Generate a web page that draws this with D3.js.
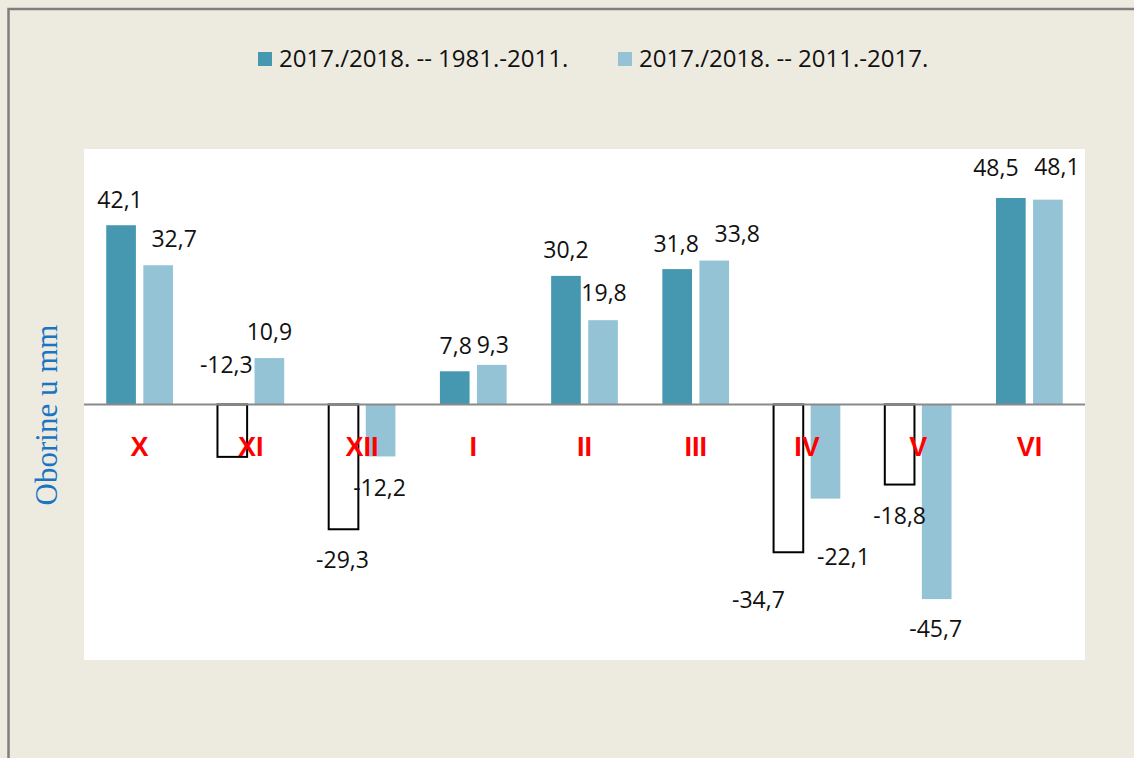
<!DOCTYPE html>
<html>
<head>
<meta charset="utf-8">
<title>Oborine</title>
<script src="https://d3js.org/d3.v7.min.js"></script>
<style>
  body { margin: 0; background: #edebe0; }
  svg { display: block; }
</style>
</head>
<body>
<div id="chart"></div>
<script>
  const categories = ["X", "XI", "XII", "I", "II", "III", "IV", "V", "VI"];
  const seriesNames = ["2017./2018. -- 1981.-2011.", "2017./2018. -- 2011.-2017."];
  const series1 = [42.1, -12.3, -29.3, 7.8, 30.2, 31.8, -34.7, -18.8, 48.5];
  const series2 = [32.7, 10.9, -12.2, 9.3, 19.8, 33.8, -22.1, -45.7, 48.1];
  const yDomain = [-60, 60];

  // hand-placed label offsets (px) from the bar end, as in the original
  const shift1 = [[-1, -26], [-6, -92], [-1, 30], [1, -26], [0, -26], [-1, -25], [-30, 47], [0, 31], [-15, -30]];
  const shift2 = [[16, -27], [0, -26], [-1, 31], [1, -20], [1, -27], [23, -27], [18, 58], [-1, 30], [9, -33]];

  const width = 1134;
  const height = 758;
  const plot = { left: 84, right: 1085, top: 149, bottom: 660 };
  const colors = ["#4598b0", "#93c3d5"];

  const fmt = d3.formatLocale({ decimal: ",", thousands: ".", grouping: [3], currency: ["", ""], minus: "-" }).format(".1f");

  const svg = d3.select("#chart")
          .append("svg")
          .attr("width", width)
          .attr("height", height);

  svg.append("rect")
          .attr("width", width)
          .attr("height", height)
          .attr("fill", "#edebe0");

  svg.append("rect")
          .attr("x", 8.5)
          .attr("y", 9)
          .attr("width", width + 20)
          .attr("height", height + 20)
          .attr("fill", "none")
          .attr("stroke", "#7f7f7f")
          .attr("stroke-width", 2.5);

  svg.append("rect")
          .attr("x", plot.left)
          .attr("y", plot.top)
          .attr("width", plot.right - plot.left)
          .attr("height", plot.bottom - plot.top)
          .attr("fill", "#ffffff");

  const x = d3.scaleBand()
          .domain(categories)
          .range([plot.left, plot.right]);

  const x1 = d3.scaleBand()
          .domain([0, 1])
          .range([0, x.bandwidth()])
          .paddingInner(0.2)
          .paddingOuter(0.6);

  const y = d3.scaleLinear()
          .domain(yDomain)
          .range([plot.bottom, plot.top]);

  const rows = categories.map((c, i) => ({ cat: c, vals: [series1[i], series2[i]], i }));

  const groups = svg.selectAll(".grp")
          .data(rows)
          .enter()
          .append("g")
          .attr("class", "grp")
          .attr("transform", d => `translate(${x(d.cat)},0)`);

  groups.selectAll("rect")
          .data(d => d.vals.map((v, s) => ({ v, s })))
          .enter()
          .append("rect")
          .attr("x", d => x1(d.s))
          .attr("width", x1.bandwidth())
          .attr("y", d => y(Math.max(0, d.v)))
          .attr("height", d => Math.abs(y(d.v) - y(0)))
          .attr("fill", d => (d.s === 0 && d.v < 0) ? "#ffffff" : colors[d.s])
          .attr("stroke", d => (d.s === 0 && d.v < 0) ? "#000000" : "none")
          .attr("stroke-width", 2);

  // zero line
  svg.append("line")
          .attr("x1", plot.left)
          .attr("x2", plot.right)
          .attr("y1", y(0))
          .attr("y2", y(0))
          .attr("stroke", "#898989")
          .attr("stroke-width", 2);

  // category names
  svg.selectAll(".cat")
          .data(categories)
          .enter()
          .append("text")
          .attr("class", "cat")
          .attr("x", d => x(d) + x.bandwidth() / 2)
          .attr("y", y(0) + 51)
          .attr("text-anchor", "middle")
          .attr("font-family", "'Liberation Sans', Arial, sans-serif")
          .attr("font-weight", "bold")
          .attr("font-size", 27)
          .attr("fill", "#ff0000")
          .text(d => d);

  // value labels
  const labels = [];
  rows.forEach(r => {
    labels.push({ cat: r.cat, s: 0, v: r.vals[0], sh: shift1[r.i] });
    labels.push({ cat: r.cat, s: 1, v: r.vals[1], sh: shift2[r.i] });
  });

  svg.selectAll(".val")
          .data(labels)
          .enter()
          .append("text")
          .attr("class", "val")
          .attr("x", d => x(d.cat) + x1(d.s) + x1.bandwidth() / 2 + d.sh[0])
          .attr("y", d => y(d.v) + d.sh[1])
          .attr("dy", "0.36em")
          .attr("text-anchor", "middle")
          .attr("font-family", "'Open Sans', sans-serif")
          .attr("font-size", 23)
          .attr("fill", "#111111")
          .text(d => fmt(d.v));

  // y axis title
  svg.append("text")
          .attr("transform", "translate(57,415) rotate(-90)")
          .attr("text-anchor", "middle")
          .attr("font-family", "'Liberation Serif', 'Times New Roman', serif")
          .attr("font-size", 31)
          .attr("fill", "#1a74c4")
          .text("Oborine u mm");

  // legend
  const legendX = [258, 618];
  const legend = svg.selectAll(".leg")
          .data(seriesNames)
          .enter()
          .append("g")
          .attr("class", "leg")
          .attr("transform", (d, i) => `translate(${legendX[i]},52)`);

  legend.append("rect")
          .attr("width", 14)
          .attr("height", 14)
          .attr("fill", (d, i) => colors[i]);

  legend.append("text")
          .attr("x", 21)
          .attr("y", 15)
          .attr("font-family", "'Open Sans', sans-serif")
          .attr("font-size", 24)
          .attr("fill", "#111111")
          .text(d => d);
</script>
</body>
</html>
